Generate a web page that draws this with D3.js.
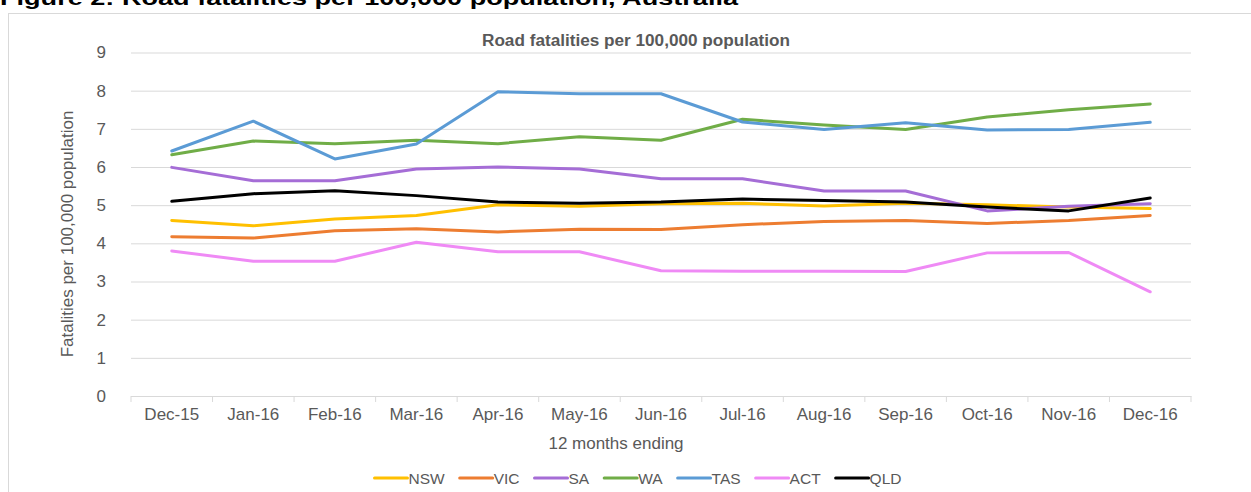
<!DOCTYPE html>
<html>
<head>
<meta charset="utf-8">
<script src="https://cdn.jsdelivr.net/npm/d3@7"></script>
<style>
  body { margin: 0; background: #fff; }
  svg { display: block; }
  text { font-family: "Liberation Sans", Arial, sans-serif; fill: #595959; }
</style>
</head>
<body>
<svg id="chart" width="1251" height="492"></svg>
<script>
// 12 months ending
var months = ["Dec-15", "Jan-16", "Feb-16", "Mar-16", "Apr-16", "May-16", "Jun-16",
  "Jul-16", "Aug-16", "Sep-16", "Oct-16", "Nov-16", "Dec-16"];

// fatalities per 100,000 population
var nsw = [4.60, 4.46, 4.64, 4.73, 5.01, 4.97, 5.04, 5.05, 4.98, 5.05, 5.01, 4.95, 4.91];
var vic = [4.17, 4.14, 4.33, 4.38, 4.30, 4.37, 4.36, 4.49, 4.57, 4.60, 4.52, 4.60, 4.73];
var sa  = [5.99, 5.64, 5.64, 5.95, 6.00, 5.95, 5.69, 5.69, 5.37, 5.37, 4.85, 4.97, 5.04];
var wa  = [6.32, 6.68, 6.61, 6.70, 6.61, 6.79, 6.70, 7.25, 7.10, 6.98, 7.31, 7.50, 7.65];
var tas = [6.42, 7.20, 6.21, 6.60, 7.97, 7.92, 7.92, 7.18, 6.98, 7.16, 6.97, 6.98, 7.17];
var act = [3.80, 3.53, 3.53, 4.03, 3.78, 3.78, 3.28, 3.27, 3.27, 3.26, 3.75, 3.76, 2.73];
var qld = [5.10, 5.30, 5.38, 5.25, 5.08, 5.05, 5.08, 5.16, 5.12, 5.08, 4.95, 4.85, 5.19];

var yTicks = [0, 1, 2, 3, 4, 5, 6, 7, 8, 9];

var series = [
  { name: "NSW", values: nsw, color: "#ffc000" },
  { name: "VIC", values: vic, color: "#ed7d31" },
  { name: "SA",  values: sa,  color: "#a56dd6" },
  { name: "WA",  values: wa,  color: "#70ad47" },
  { name: "TAS", values: tas, color: "#5b9bd5" },
  { name: "ACT", values: act, color: "#ef8af5" },
  { name: "QLD", values: qld, color: "#000000" }
];

var svg = d3.select("#chart");

// figure caption, cut off at the top like the source
svg.append("text")
  .attr("x", 0)
  .attr("y", 5)
  .attr("textLength", 738)
  .attr("lengthAdjust", "spacingAndGlyphs")
  .style("font-size", "21px")
  .style("font-weight", "bold")
  .style("fill", "#000")
  .text("Figure 2: Road fatalities per 100,000 population, Australia");

// chart area border
svg.append("rect")
  .attr("x", 8.5).attr("y", 13.5)
  .attr("width", 1300).attr("height", 500)
  .attr("fill", "none")
  .attr("stroke", "#d9d9d9");

var x = d3.scaleBand()
  .domain(months)
  .range([131, 1191]);

var y = d3.scaleLinear()
  .domain([0, 9])
  .range([396, 52.5]);

// gridlines + y labels
var yAxis = svg.append("g")
  .attr("transform", "translate(131,0)")
  .call(d3.axisLeft(y).tickValues(yTicks).tickSize(-1060).tickPadding(25));
yAxis.select(".domain").remove();
yAxis.selectAll(".tick line").attr("stroke", "#d9d9d9").attr("stroke-width", 1);
yAxis.selectAll(".tick text")
  .style("font-size", "17px")
  .style("font-family", "'Liberation Sans', Arial, sans-serif")
  .attr("fill", "#595959");

// x axis line, boundary ticks and labels
var xAxis = svg.append("g")
  .attr("transform", "translate(0," + y(0) + ")")
  .call(d3.axisBottom(x).tickSize(0).tickPadding(12));
xAxis.select(".domain").attr("stroke", "#d9d9d9");
xAxis.selectAll(".tick text")
  .style("font-size", "17px")
  .style("font-family", "'Liberation Sans', Arial, sans-serif")
  .attr("fill", "#595959");

xAxis.selectAll(".bound")
  .data(d3.range(months.length + 1))
  .join("line")
  .attr("class", "bound")
  .attr("x1", function(i) { return x.range()[0] + i * x.step(); })
  .attr("x2", function(i) { return x.range()[0] + i * x.step(); })
  .attr("y1", 0)
  .attr("y2", 6)
  .attr("stroke", "#d9d9d9");

// titles
svg.append("text")
  .attr("x", 636)
  .attr("y", 46)
  .attr("text-anchor", "middle")
  .attr("textLength", 308)
  .attr("lengthAdjust", "spacingAndGlyphs")
  .style("font-size", "16px")
  .style("font-weight", "bold")
  .text("Road fatalities per 100,000 population");

svg.append("text")
  .attr("x", 616)
  .attr("y", 449)
  .attr("text-anchor", "middle")
  .style("font-size", "17px")
  .text("12 months ending");

svg.append("text")
  .attr("transform", "translate(73,234) rotate(-90)")
  .attr("text-anchor", "middle")
  .style("font-size", "17px")
  .text("Fatalities per 100,000 population");

// lines
var line = d3.line()
  .x(function(d, i) { return x(months[i]) + x.bandwidth() / 2; })
  .y(function(d) { return y(d); });

svg.append("g")
  .selectAll("path")
  .data(series)
  .join("path")
  .attr("d", function(s) { return line(s.values); })
  .attr("fill", "none")
  .attr("stroke", function(s) { return s.color; })
  .attr("stroke-width", 3)
  .attr("stroke-linejoin", "round")
  .attr("stroke-linecap", "round");

// legend
var legend = svg.append("g").attr("transform", "translate(0,478)");
var items = legend.selectAll("g")
  .data(series)
  .join("g");
items.append("line")
  .attr("x1", 0).attr("x2", 33)
  .attr("y1", 0).attr("y2", 0)
  .attr("stroke", function(s) { return s.color; })
  .attr("stroke-width", 3)
  .attr("stroke-linecap", "round");
items.append("text")
  .attr("x", 34)
  .attr("y", 5.5)
  .style("font-size", "15.5px")
  .text(function(s) { return s.name; });

var pos = 0;
var widths = [];
items.each(function() {
  var w = 34 + d3.select(this).select("text").node().getComputedTextLength();
  widths.push(w);
});
var total = d3.sum(widths) + 15 * (widths.length - 1);
var start = 638 - total / 2;
items.attr("transform", function(s, i) {
  var tx = start + pos;
  pos += widths[i] + 15;
  return "translate(" + tx + ",0)";
});
</script>
</body>
</html>
